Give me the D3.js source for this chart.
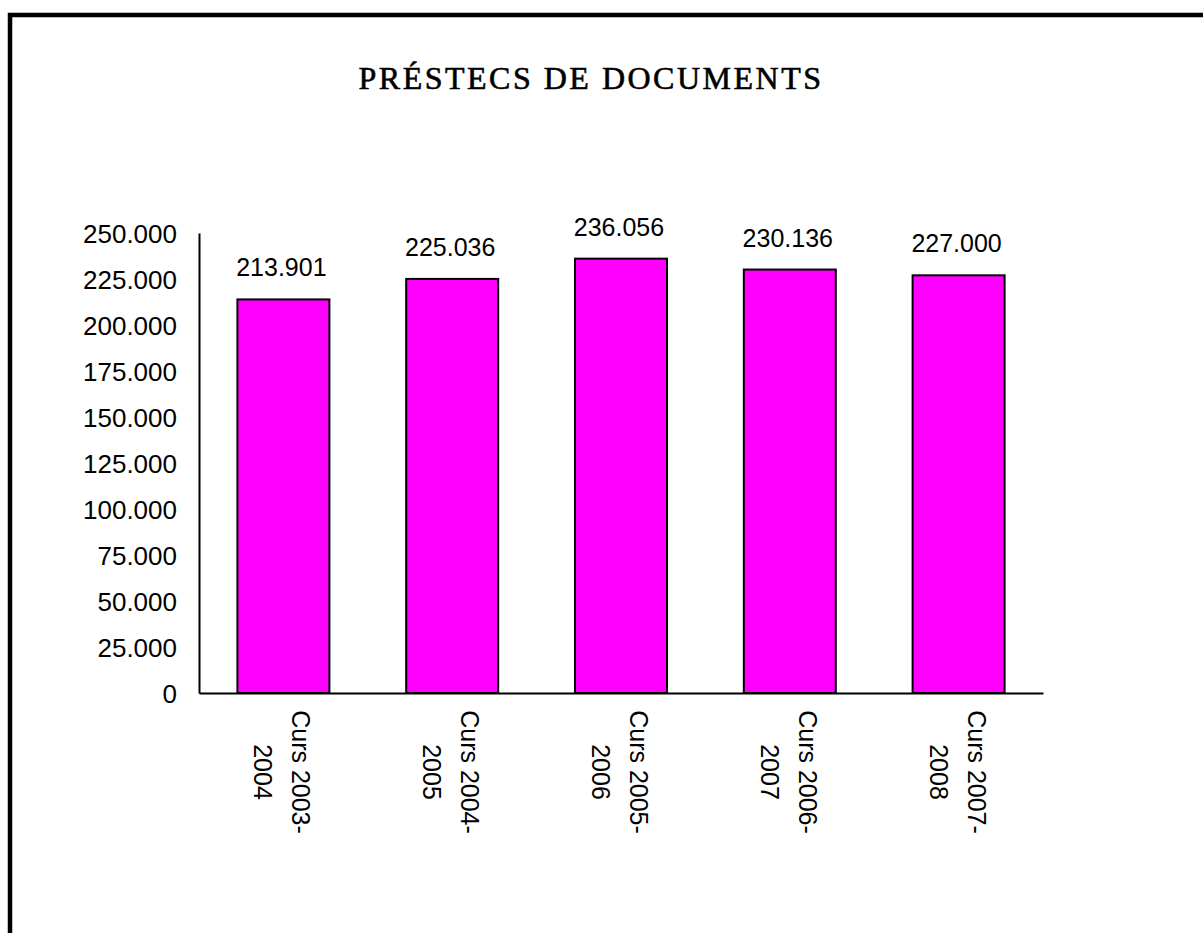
<!DOCTYPE html>
<html>
<head>
<meta charset="utf-8">
<script src="https://cdn.jsdelivr.net/npm/d3@7"></script>
<style>
html,body{margin:0;padding:0;background:#fff;}
svg{display:block;}
</style>
</head>
<body>
<svg id="chart" width="1203" height="933"></svg>
<script>
const title = "PRÉSTECS DE DOCUMENTS";
const categories = [["Curs 2003-","2004"],["Curs 2004-","2005"],["Curs 2005-","2006"],["Curs 2006-","2007"],["Curs 2007-","2008"]];
const values = [213901, 225036, 236056, 230136, 227000];
const yTicks = [0,25000,50000,75000,100000,125000,150000,175000,200000,225000,250000];

const svg = d3.select("#chart");
const W = 1203, H = 933;

// frame (top and left edges)
svg.append("path").attr("d", `M10,${H} V15 H${W}`).attr("fill","none").attr("stroke","#000").attr("stroke-width",4.5);

svg.append("text").attr("x", 591).attr("y", 89).attr("text-anchor","middle")
  .attr("font-family","Liberation Serif, Times New Roman, serif").attr("font-size",32)
  .attr("letter-spacing", 2.5).attr("stroke","#000").attr("stroke-width",0.6)
  .attr("fill","#000").text(title);

const loc = d3.formatLocale({decimal:",", thousands:".", grouping:[3], currency:["","€"]});
const fmt = loc.format(",d");

const x = d3.scaleBand().domain(d3.range(categories.length)).range([199,1043]).padding(0);
const y = d3.scaleLinear().domain([0,250000]).range([693,233]);

const font = "Liberation Sans, Arial, sans-serif";

// bars
const bw = x.bandwidth()*0.545;
svg.append("g").selectAll("rect").data(values).join("rect")
  .attr("x",(d,i)=>x(i)+x.bandwidth()/2-bw/2)
  .attr("y",d=>y(d))
  .attr("width",bw)
  .attr("height",d=>y(0)-y(d))
  .attr("fill","#ff00ff").attr("stroke","#000").attr("stroke-width",2);

// y axis
const ya = svg.append("g").attr("transform","translate(199,0)")
  .call(d3.axisLeft(y).tickValues(yTicks).tickSize(0).tickPadding(22).tickFormat(fmt));
ya.select(".domain").attr("stroke","#000").attr("stroke-width",2);
ya.selectAll("text").attr("font-family",font).attr("font-size",26).attr("fill","#000").attr("dy","0.36em");

// x axis
const xa = svg.append("g").attr("transform","translate(0,693)")
  .call(d3.axisBottom(x).tickSize(0).tickFormat(""));
xa.select(".domain").attr("stroke","#000").attr("stroke-width",2);

// x labels rotated
const lab = svg.append("g").selectAll("g").data(categories).join("g")
  .attr("transform",(d,i)=>`translate(${x(i)+x.bandwidth()/2-1},772) rotate(90)`);
lab.each(function(d){
  const g = d3.select(this);
  d.forEach((line,k)=>{
    g.append("text").attr("x",0).attr("y",(k===0?-19:19)).attr("dy","0.36em")
      .attr("text-anchor","middle").attr("font-family",font).attr("font-size",25)
      .attr("fill","#000").text(line);
  });
});

// value labels
svg.append("g").selectAll("text").data(values).join("text")
  .attr("x",(d,i)=>x(i)+x.bandwidth()/2-2)
  .attr("y",d=>y(d)-23)
  .attr("text-anchor","middle").attr("font-family",font).attr("font-size",25)
  .attr("fill","#000").text(d=>fmt(d));
</script>
</body>
</html>
